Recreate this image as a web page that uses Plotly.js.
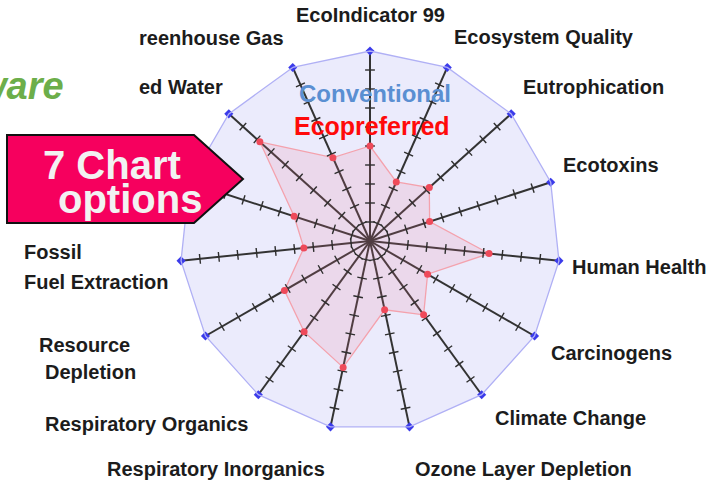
<!DOCTYPE html>
<html>
<head>
<meta charset="utf-8">
<script src="https://cdn.plot.ly/plotly-3.0.1.min.js"></script>
<style>html,body{margin:0;padding:0;background:#fff;}#chart{width:719px;height:491px;}</style>
</head>
<body>
<div id="chart"></div>
<script>
// ---- data ----
const categories = ['EcoIndicator 99','Ecosystem Quality','Eutrophication','Ecotoxins','Human Health','Carcinogens','Climate Change','Ozone Layer Depletion','Respiratory Inorganics','Respiratory Organics','Resource Depletion','Fossil Fuel Extraction','Land Use','Used Water','Greenhouse Gas'];
const conventional = [10,10,10,10,10,10,10,10,10,10,10,10,10,10,10];
const ecopreferred = [5.0,3.4,4.2,3.3,6.3,3.5,4.8,3.7,6.8,5.9,5.2,3.5,4.2,7.8,4.8];
const tickValues = [1,2,3,4,5,6,7,8,9];
const seriesNames = ['Conventional','Ecopreferred'];
const labelTexts = ['EcoIndicator 99','Ecosystem Quality','Eutrophication','Ecotoxins','Human Health','Carcinogens','Climate Change','Ozone Layer Depletion','Respiratory Inorganics','Respiratory Organics','Resource','Depletion','Fossil','Fuel Extraction','ed Water','reenhouse Gas'];
const calloutLines = ['7 Chart','options'];
const brandText = 'ware';

// ---- helpers (pixel -> paper) ----
const W = 719, H = 491;
const px = x => x / W;
const py = y => 1 - y / H;

const cx = 370, cy = 241, R = 190;

const traces = [];
const N = categories.length;

// ecopreferred polygon (closed)
traces.push({
  type: 'scatterpolar',
  name: seriesNames[1],
  r: ecopreferred.concat([ecopreferred[0]]),
  theta: categories.concat([categories[0]]),
  mode: 'lines',
  fill: 'toself',
  fillcolor: 'rgba(236,120,150,0.16)',
  line: {color: '#f4a2ad', width: 1.3},
  hoverinfo: 'skip'
});

// tick marks on each spoke
categories.forEach((c, i) => {
  traces.push({
    type: 'scatterpolar',
    r: tickValues,
    theta: tickValues.map(() => c),
    mode: 'markers',
    marker: {symbol: 'line-ew', size: 7, angle: i * 360 / N,
             line: {color: '#2e2e2e', width: 1.4}},
    hoverinfo: 'skip'
  });
});

// conventional vertices
traces.push({
  type: 'scatterpolar',
  name: seriesNames[0],
  r: conventional,
  theta: categories,
  mode: 'markers',
  marker: {symbol: 'diamond', size: 7, color: '#3b3bea'}
});

// ecopreferred points
traces.push({
  type: 'scatterpolar',
  name: seriesNames[1],
  r: ecopreferred,
  theta: categories,
  mode: 'markers',
  marker: {symbol: 'circle', size: 7, color: '#ee4a5a'}
});

// label placements (pixel centres)
const labelPlace = [
  {x: 370, y: 15, a: 'center'},
  {x: 544, y: 37, a: 'center'},
  {x: 593, y: 87, a: 'center'},
  {x: 611, y: 165, a: 'center'},
  {x: 639, y: 267, a: 'center'},
  {x: 611, y: 353, a: 'center'},
  {x: 570, y: 418, a: 'center'},
  {x: 523, y: 469, a: 'center'},
  {x: 216, y: 469, a: 'center'},
  {x: 146, y: 424, a: 'center'},
  {x: 37, y: 345, a: 'left'},
  {x: 43, y: 372, a: 'left'},
  {x: 22, y: 252, a: 'left'},
  {x: 22, y: 282, a: 'left'},
  {x: 137, y: 87, a: 'left'},
  {x: 137, y: 38, a: 'left'}
];

const labelFont = {family: 'Liberation Sans, Arial, sans-serif', size: 20, color: '#1c1c1c'};
const annotations = labelTexts.map((t, i) => ({
  xref: 'paper', yref: 'paper',
  x: px(labelPlace[i].x), y: py(labelPlace[i].y),
  xanchor: labelPlace[i].a, yanchor: 'middle',
  text: '<b>' + t + '</b>', showarrow: false,
  font: {family: labelFont.family, size: labelFont.size, color: labelFont.color}
}));

// legend-like titles
annotations.push({xref:'paper',yref:'paper',x:px(375),y:py(94),xanchor:'center',yanchor:'middle',
  text: '<b>' + seriesNames[0] + '</b>', showarrow:false,
  font:{family:'Liberation Sans, Arial, sans-serif', size:24, color:'#5a8fd2'}});
annotations.push({xref:'paper',yref:'paper',x:px(372),y:py(126),xanchor:'center',yanchor:'middle',
  text: '<b>' + seriesNames[1] + '</b>', showarrow:false,
  font:{family:'Liberation Sans, Arial, sans-serif', size:25, color:'#ff0a0a'}});

// callout text
annotations.push({xref:'paper',yref:'paper',x:px(112),y:py(165),xanchor:'center',yanchor:'middle',
  text:'<b>'+calloutLines[0]+'</b>', showarrow:false,
  font:{family:'Liberation Sans, Arial, sans-serif', size:40, color:'#f2f2f2'}});
annotations.push({xref:'paper',yref:'paper',x:px(130),y:py(199),xanchor:'center',yanchor:'middle',
  text:'<b>'+calloutLines[1]+'</b>', showarrow:false,
  font:{family:'Liberation Sans, Arial, sans-serif', size:40, color:'#f2f2f2'}});

// brand fragment
annotations.push({xref:'paper',yref:'paper',x:px(66),y:py(86),xanchor:'right',yanchor:'middle',
  text:'<b><i>'+brandText+'</i></b>', showarrow:false,
  font:{family:'Liberation Sans, Arial, sans-serif', size:38, color:'#6cae4a'}});

const calloutPts = [[7,135],[194,135],[243,179],[194,223],[7,223]];
const calloutPath = 'M ' + calloutPts.map(p => px(p[0]) + ',' + py(p[1])).join(' L ') + ' Z';

const layout = {
  width: W, height: H,
  margin: {l: 0, r: 0, t: 0, b: 0},
  paper_bgcolor: '#ffffff',
  showlegend: false,
  polar: {
    domain: {x: [px(cx - R), px(cx + R)], y: [py(cy + R), py(cy - R)]},
    gridshape: 'linear',
    bgcolor: '#ebebfc',
    angularaxis: {
      type: 'category', categoryarray: categories,
      direction: 'clockwise', rotation: 90,
      showticklabels: false, ticks: '',
      showgrid: true, gridcolor: '#333333', gridwidth: 2,
      showline: true, linecolor: '#b0b0f5', linewidth: 1.3
    },
    radialaxis: {
      range: [0, 10], showticklabels: false, ticks: '',
      showgrid: false, showline: false
    }
  },
  shapes: [{
    type: 'path', xref: 'paper', yref: 'paper', path: calloutPath,
    fillcolor: '#f6005e', line: {color: '#111111', width: 2}, layer: 'above'
  }],
  annotations: annotations
};

Plotly.newPlot('chart', traces, layout, {displayModeBar: false, staticPlot: true});
</script>
</body>
</html>
